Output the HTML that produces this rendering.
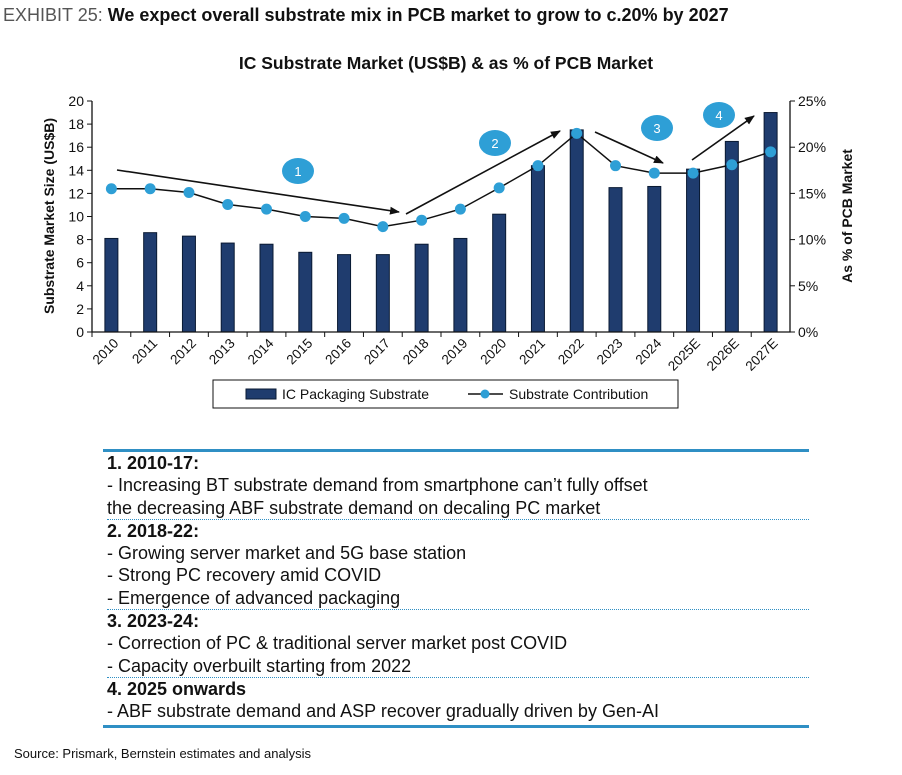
<!DOCTYPE html>
<html><head><meta charset="utf-8"><style>
body{margin:0;background:#fff;font-family:"Liberation Sans",Arial,sans-serif;}
#wrap{position:relative;width:902px;height:775px;overflow:hidden;}
.t{position:absolute;white-space:nowrap;color:#111;}
</style></head><body>
<div id="wrap">
<div class="t" style="left:3px;top:5px;font-size:18px;"><span style="color:#555">EXHIBIT 25: </span><b>We expect overall substrate mix in PCB market to grow to c.20% by 2027</b></div>
<svg id="chart" width="902" height="420" style="position:absolute;left:0;top:0" font-family="Liberation Sans, Arial, sans-serif"></svg>
<div style="position:absolute;left:103px;top:449px;width:706px;">
<div style="height:3px;background:#2f8fc4"></div>
<div style="font-size:18px;line-height:22.3px;padding-left:4px;color:#111">
<div style="border-bottom:1px dotted #2f8fc4"><b>1. 2010-17:</b><br>- Increasing BT substrate demand from smartphone can’t fully offset<br>the decreasing ABF substrate demand on decaling PC market</div>
<div style="border-bottom:1px dotted #2f8fc4"><b>2. 2018-22:</b><br>- Growing server market and 5G base station<br>- Strong PC recovery amid COVID<br>- Emergence of advanced packaging</div>
<div style="border-bottom:1px dotted #2f8fc4"><b>3. 2023-24:</b><br>- Correction of PC &amp; traditional server market post COVID<br>- Capacity overbuilt starting from 2022</div>
<div><b>4. 2025 onwards</b><br>- ABF substrate demand and ASP recover gradually driven by Gen-AI</div>
</div>
<div style="height:3px;background:#2f8fc4;margin-top:2px"></div>
</div>
<div class="t" style="left:14px;top:746px;font-size:13px;">Source: Prismark, Bernstein estimates and analysis</div>
</div>
<script>
const categories=["2010","2011","2012","2013","2014","2015","2016","2017","2018","2019","2020","2021","2022","2023","2024","2025E","2026E","2027E"];
const marketSize=[8.1,8.6,8.3,7.7,7.6,6.9,6.7,6.7,7.6,8.1,10.2,14.4,17.5,12.5,12.6,14.1,16.5,19.0];
const pctOfPcb=[15.5,15.5,15.1,13.8,13.3,12.5,12.3,11.4,12.1,13.3,15.6,18.0,21.5,18.0,17.2,17.2,18.1,19.5];
const leftTicks=[0,2,4,6,8,10,12,14,16,18,20];
const rightTicks=[0,5,10,15,20,25];
const NS="http://www.w3.org/2000/svg";
const svg=document.getElementById("chart");
const X0=92,X1=790,Y0=332,Y1=101;
const bw=(X1-X0)/categories.length;
const xc=i=>X0+bw*(i+0.5);
const yL=v=>Y0-(v/20)*(Y0-Y1);
const yR=v=>Y0-(v/25)*(Y0-Y1);
function mk(tag,attrs,parent){const e=document.createElementNS(NS,tag);for(const k in attrs)e.setAttribute(k,attrs[k]);(parent||svg).appendChild(e);return e;}
let t=mk("text",{x:446,y:69,"text-anchor":"middle","font-size":"17.5","font-weight":"bold",fill:"#111"});t.textContent="IC Substrate Market (US$B) & as % of PCB Market";


marketSize.forEach((v,i)=>{const r=mk("rect",{x:xc(i)-6.5,y:yL(v),width:13,height:Y0-yL(v),fill:"#1f3c6e",stroke:"#0a1a33","stroke-width":1});

});
let ax=mk("path",{d:`M${X0},${Y1}V${Y0}H${X1}V${Y1}`,stroke:"#111",fill:"none","stroke-width":1.3});


leftTicks.forEach(v=>{mk("line",{x1:X0-5,x2:X0,y1:yL(v),y2:yL(v),stroke:"#111"});const tx=mk("text",{x:X0-8,y:yL(v)+5,"text-anchor":"end","font-size":"14",fill:"#111"});tx.textContent=v;

});
rightTicks.forEach(v=>{mk("line",{x1:X1,x2:X1+5,y1:yR(v),y2:yR(v),stroke:"#111"});const tx=mk("text",{x:X1+8,y:yR(v)+5,"font-size":"14",fill:"#111"});tx.textContent=v+"%";

});
categories.forEach((c,i)=>{const xt=X0+bw*i;mk("line",{x1:xt,x2:xt,y1:Y0,y2:Y0+5,stroke:"#111"});
const tx=mk("text",{x:xc(i)+8,y:Y0+12,"text-anchor":"end","font-size":"13.5",fill:"#111",transform:`rotate(-45 ${xc(i)+8} ${Y0+12})`});tx.textContent=c;

});
let yt=mk("text",{x:0,y:0,"font-size":"14","font-weight":"bold",fill:"#111","text-anchor":"middle",transform:"translate(54,216) rotate(-90)"});yt.textContent="Substrate Market Size (US$B)";


let yt2=mk("text",{x:0,y:0,"font-size":"14","font-weight":"bold",fill:"#111","text-anchor":"middle",transform:"translate(852,216) rotate(-90)"});yt2.textContent="As % of PCB Market";


let ln=mk("polyline",{points:pctOfPcb.map((v,i)=>xc(i)+","+yR(v)).join(" "),fill:"none",stroke:"#111","stroke-width":1.5});


pctOfPcb.forEach((v,i)=>{const c=mk("circle",{cx:xc(i),cy:yR(v),r:5.5,fill:"#2e9fd6"});

});
mk("defs",{}).innerHTML='<marker id="ah" markerWidth="10" markerHeight="8" refX="9" refY="4" orient="auto" markerUnits="userSpaceOnUse"><path d="M0,0L10,4L0,8z" fill="#111"/></marker>';
[[117,170,399,212],[406,214,560,131],[595,132,663,163],[692,160,754,116]].forEach((a,k)=>{const l=mk("line",{x1:a[0],y1:a[1],x2:a[2],y2:a[3],stroke:"#111","stroke-width":1.6,"marker-end":"url(#ah)"});

});
[[298,171],[495,143],[657,128],[719,115]].forEach((p,k)=>{const e=mk("ellipse",{cx:p[0],cy:p[1],rx:16,ry:13,fill:"#2e9fd6"});


const tx=mk("text",{x:p[0],y:p[1]+5,"text-anchor":"middle","font-size":"13",fill:"#fff"});tx.textContent=k+1;});
const lg=mk("g",{});


mk("rect",{x:213,y:380,width:465,height:28,fill:"#fff",stroke:"#111"},lg);
mk("rect",{x:246,y:389,width:30,height:10,fill:"#1f3c6e",stroke:"#0a1a33"},lg);
let l1=mk("text",{x:282,y:399,"font-size":"14",fill:"#111"},lg);l1.textContent="IC Packaging Substrate";
mk("line",{x1:468,x2:503,y1:394,y2:394,stroke:"#111","stroke-width":1.5},lg);
mk("circle",{cx:485,cy:394,r:4.5,fill:"#2e9fd6"},lg);
let l2=mk("text",{x:509,y:399,"font-size":"14",fill:"#111"},lg);l2.textContent="Substrate Contribution";
</script>
</body></html>
